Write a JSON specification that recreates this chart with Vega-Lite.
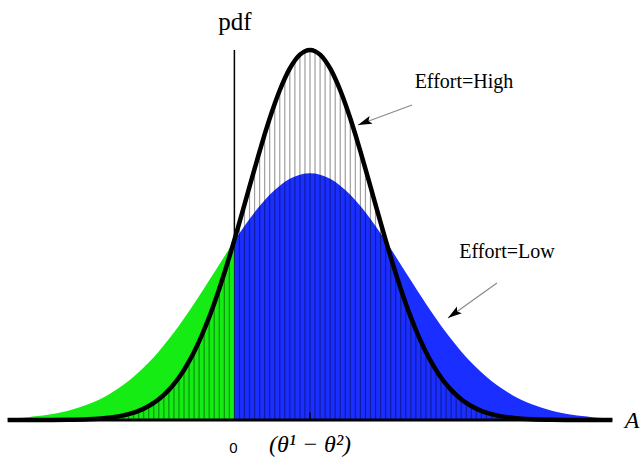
{
  "$schema": "https://vega.github.io/schema/vega-lite/v6.json",
  "width": 641,
  "height": 466,
  "autosize": "none",
  "padding": 0,
  "background": "white",
  "config": {"view": {"stroke": null}},
  "datasets": {
    "high": [
      {"x": -4.8, "h": 0.0}, {"x": -4.48, "h": 0.0}, {"x": -4.16, "h": 0.0002}, {"x": -3.84, "h": 0.0006},
      {"x": -3.52, "h": 0.0020}, {"x": -3.44, "h": 0.0027}, {"x": -3.36, "h": 0.0035}, {"x": -3.28, "h": 0.0046},
      {"x": -3.2, "h": 0.0060}, {"x": -3.12, "h": 0.0077}, {"x": -3.04, "h": 0.0098}, {"x": -2.96, "h": 0.0125},
      {"x": -2.88, "h": 0.0158}, {"x": -2.8, "h": 0.0198}, {"x": -2.72, "h": 0.0247}, {"x": -2.64, "h": 0.0307},
      {"x": -2.56, "h": 0.0377}, {"x": -2.48, "h": 0.0462}, {"x": -2.4, "h": 0.0561}, {"x": -2.32, "h": 0.0678},
      {"x": -2.24, "h": 0.0814}, {"x": -2.16, "h": 0.0970}, {"x": -2.08, "h": 0.1150}, {"x": -2.0, "h": 0.1353},
      {"x": -1.92, "h": 0.1583}, {"x": -1.84, "h": 0.1840}, {"x": -1.76, "h": 0.2125}, {"x": -1.68, "h": 0.2439},
      {"x": -1.6, "h": 0.2780}, {"x": -1.52, "h": 0.3150}, {"x": -1.44, "h": 0.3546}, {"x": -1.36, "h": 0.3966},
      {"x": -1.28, "h": 0.4408}, {"x": -1.2, "h": 0.4868}, {"x": -1.12, "h": 0.5341}, {"x": -1.04, "h": 0.5823},
      {"x": -0.96, "h": 0.6308}, {"x": -0.88, "h": 0.6790}, {"x": -0.8, "h": 0.7261}, {"x": -0.72, "h": 0.7717},
      {"x": -0.64, "h": 0.8148}, {"x": -0.56, "h": 0.8549}, {"x": -0.48, "h": 0.8912}, {"x": -0.4, "h": 0.9231},
      {"x": -0.32, "h": 0.9501}, {"x": -0.24, "h": 0.9716}, {"x": -0.16, "h": 0.9873}, {"x": -0.08, "h": 0.9968},
      {"x": 0.0, "h": 1.0},
      {"x": 0.08, "h": 0.9968}, {"x": 0.16, "h": 0.9873}, {"x": 0.24, "h": 0.9716}, {"x": 0.32, "h": 0.9501},
      {"x": 0.4, "h": 0.9231}, {"x": 0.48, "h": 0.8912}, {"x": 0.56, "h": 0.8549}, {"x": 0.64, "h": 0.8148},
      {"x": 0.72, "h": 0.7717}, {"x": 0.8, "h": 0.7261}, {"x": 0.88, "h": 0.6790}, {"x": 0.96, "h": 0.6308},
      {"x": 1.04, "h": 0.5823}, {"x": 1.12, "h": 0.5341}, {"x": 1.2, "h": 0.4868}, {"x": 1.28, "h": 0.4408},
      {"x": 1.36, "h": 0.3966}, {"x": 1.44, "h": 0.3546}, {"x": 1.52, "h": 0.3150}, {"x": 1.6, "h": 0.2780},
      {"x": 1.68, "h": 0.2439}, {"x": 1.76, "h": 0.2125}, {"x": 1.84, "h": 0.1840}, {"x": 1.92, "h": 0.1583},
      {"x": 2.0, "h": 0.1353}, {"x": 2.08, "h": 0.1150}, {"x": 2.16, "h": 0.0970}, {"x": 2.24, "h": 0.0814},
      {"x": 2.32, "h": 0.0678}, {"x": 2.4, "h": 0.0561}, {"x": 2.48, "h": 0.0462}, {"x": 2.56, "h": 0.0377},
      {"x": 2.64, "h": 0.0307}, {"x": 2.72, "h": 0.0247}, {"x": 2.8, "h": 0.0198}, {"x": 2.88, "h": 0.0158},
      {"x": 2.96, "h": 0.0125}, {"x": 3.04, "h": 0.0098}, {"x": 3.12, "h": 0.0077}, {"x": 3.2, "h": 0.0060},
      {"x": 3.28, "h": 0.0046}, {"x": 3.36, "h": 0.0035}, {"x": 3.44, "h": 0.0027}, {"x": 3.52, "h": 0.0020},
      {"x": 3.84, "h": 0.0006}, {"x": 4.16, "h": 0.0002}, {"x": 4.48, "h": 0.0}, {"x": 4.8, "h": 0.0}
    ],
    "low": [
      {"x": -4.8, "l": 0.0040}, {"x": -4.64, "l": 0.0056}, {"x": -4.48, "l": 0.0077}, {"x": -4.32, "l": 0.0105},
      {"x": -4.16, "l": 0.0143}, {"x": -4.0, "l": 0.0190}, {"x": -3.84, "l": 0.0252}, {"x": -3.68, "l": 0.0329},
      {"x": -3.52, "l": 0.0425}, {"x": -3.36, "l": 0.0542}, {"x": -3.2, "l": 0.0685}, {"x": -3.04, "l": 0.0855},
      {"x": -2.88, "l": 0.1055}, {"x": -2.72, "l": 0.1288}, {"x": -2.56, "l": 0.1554}, {"x": -2.4, "l": 0.1854},
      {"x": -2.24, "l": 0.2186}, {"x": -2.08, "l": 0.2549}, {"x": -1.92, "l": 0.2939}, {"x": -1.76, "l": 0.3349},
      {"x": -1.6, "l": 0.3774}, {"x": -1.44, "l": 0.4205}, {"x": -1.28, "l": 0.4632}, {"x": -1.2, "l": 0.4841},
      {"x": -1.12, "l": 0.5045}, {"x": -0.96, "l": 0.5432}, {"x": -0.8, "l": 0.5783}, {"x": -0.64, "l": 0.6087},
      {"x": -0.48, "l": 0.6334}, {"x": -0.32, "l": 0.6517}, {"x": -0.16, "l": 0.6629}, {"x": 0.0, "l": 0.6667},
      {"x": 0.16, "l": 0.6629}, {"x": 0.32, "l": 0.6517}, {"x": 0.48, "l": 0.6334}, {"x": 0.64, "l": 0.6087},
      {"x": 0.8, "l": 0.5783}, {"x": 0.96, "l": 0.5432}, {"x": 1.12, "l": 0.5045}, {"x": 1.28, "l": 0.4632},
      {"x": 1.44, "l": 0.4205}, {"x": 1.6, "l": 0.3774}, {"x": 1.76, "l": 0.3349}, {"x": 1.92, "l": 0.2939},
      {"x": 2.08, "l": 0.2549}, {"x": 2.24, "l": 0.2186}, {"x": 2.4, "l": 0.1854}, {"x": 2.56, "l": 0.1554},
      {"x": 2.72, "l": 0.1288}, {"x": 2.88, "l": 0.1055}, {"x": 3.04, "l": 0.0855}, {"x": 3.2, "l": 0.0685},
      {"x": 3.36, "l": 0.0542}, {"x": 3.52, "l": 0.0425}, {"x": 3.68, "l": 0.0329}, {"x": 3.84, "l": 0.0252},
      {"x": 4.0, "l": 0.0190}, {"x": 4.16, "l": 0.0143}, {"x": 4.32, "l": 0.0105}, {"x": 4.48, "l": 0.0077},
      {"x": 4.64, "l": 0.0056}, {"x": 4.8, "l": 0.0040}
    ]
  },
  "layer": [
    {
      "data": {"values": [{"x": -1.2, "y": 0, "y2": 1.0}]},
      "mark": {"type": "rule", "color": "black", "strokeWidth": 1.5},
      "encoding": {
        "x": {"field": "x", "type": "quantitative", "scale": {"domain": [-4.9206, 5.254], "nice": false, "zero": false}, "axis": null},
        "y": {"field": "y", "type": "quantitative", "scale": {"domain": [-0.12432, 1.13514], "nice": false, "zero": false}, "axis": null},
        "y2": {"field": "y2"}
      }
    },
    {
      "data": {"name": "low"},
      "transform": [{"filter": "datum.x <= -1.2"}],
      "mark": {"type": "area", "color": "#14ec14", "interpolate": "monotone"},
      "encoding": {
        "x": {"field": "x", "type": "quantitative"},
        "y": {"field": "l", "type": "quantitative"},
        "y2": {"datum": 0}
      }
    },
    {
      "data": {"name": "low"},
      "transform": [{"filter": "datum.x >= -1.2"}],
      "mark": {"type": "area", "color": "#1a2eff", "interpolate": "monotone"},
      "encoding": {
        "x": {"field": "x", "type": "quantitative"},
        "y": {"field": "l", "type": "quantitative"},
        "y2": {"datum": 0}
      }
    },
    {
      "data": {"name": "high"},
      "mark": {"type": "rule", "color": "black", "strokeWidth": 1.2, "opacity": 0.38},
      "encoding": {
        "x": {"field": "x", "type": "quantitative"},
        "y": {"field": "h", "type": "quantitative"},
        "y2": {"datum": 0}
      }
    },
    {
      "data": {"name": "high"},
      "mark": {"type": "line", "color": "black", "strokeWidth": 4.5, "interpolate": "monotone"},
      "encoding": {
        "x": {"field": "x", "type": "quantitative"},
        "y": {"field": "h", "type": "quantitative"}
      }
    },
    {
      "data": {"values": [{"x": -4.746, "x2": 4.794, "y": 0}]},
      "mark": {"type": "rule", "color": "black", "strokeWidth": 3},
      "encoding": {
        "x": {"field": "x", "type": "quantitative"},
        "x2": {"field": "x2"},
        "y": {"field": "y", "type": "quantitative"}
      }
    },
    {
      "data": {"values": [{"x": 0, "y": 0, "y2": 0.02}]},
      "mark": {"type": "rule", "color": "black", "strokeWidth": 1.5},
      "encoding": {
        "x": {"field": "x", "type": "quantitative"},
        "y": {"field": "y", "type": "quantitative"},
        "y2": {"field": "y2"}
      }
    },
    {
      "data": {"values": [{"x": 1.619, "y": 0.8514, "x2": 0.762, "y2": 0.7973}, {"x": 2.968, "y": 0.3703, "x2": 2.19, "y2": 0.2757}]},
      "mark": {"type": "rule", "color": "#8a8a8a", "strokeWidth": 1.2},
      "encoding": {
        "x": {"field": "x", "type": "quantitative"},
        "y": {"field": "y", "type": "quantitative"},
        "x2": {"field": "x2"},
        "y2": {"field": "y2"}
      }
    },
    {
      "data": {"values": [{"x": 0.762, "y": 0.7973}]},
      "mark": {"type": "point", "shape": "M0,0L0.6,2L0,1.6L-0.6,2Z", "size": 196, "filled": true, "color": "black", "opacity": 1, "angle": 248.75},
      "encoding": {
        "x": {"field": "x", "type": "quantitative"},
        "y": {"field": "y", "type": "quantitative"}
      }
    },
    {
      "data": {"values": [{"x": 2.19, "y": 0.2757}]},
      "mark": {"type": "point", "shape": "M0,0L0.6,2L0,1.6L-0.6,2Z", "size": 196, "filled": true, "color": "black", "opacity": 1, "angle": 234.5},
      "encoding": {
        "x": {"field": "x", "type": "quantitative"},
        "y": {"field": "y", "type": "quantitative"}
      }
    },
    {
      "data": {"values": [{"x": -1.19, "y": 1.054, "label": "pdf"}]},
      "mark": {"type": "text", "font": "Liberation Serif", "fontSize": 25, "align": "center", "baseline": "alphabetic", "color": "black"},
      "encoding": {
        "x": {"field": "x", "type": "quantitative"},
        "y": {"field": "y", "type": "quantitative"},
        "text": {"field": "label"}
      }
    },
    {
      "data": {"values": [{"x": 2.444, "y": 0.897, "label": "Effort=High"}, {"x": 3.127, "y": 0.438, "label": "Effort=Low"}]},
      "mark": {"type": "text", "font": "Liberation Serif", "fontSize": 20, "align": "center", "baseline": "alphabetic", "color": "black"},
      "encoding": {
        "x": {"field": "x", "type": "quantitative"},
        "y": {"field": "y", "type": "quantitative"},
        "text": {"field": "label"}
      }
    },
    {
      "data": {"values": [{"x": -1.214, "y": -0.0892, "label": "0"}]},
      "mark": {"type": "text", "font": "Liberation Sans", "fontSize": 15, "align": "center", "baseline": "alphabetic", "color": "black"},
      "encoding": {
        "x": {"field": "x", "type": "quantitative"},
        "y": {"field": "y", "type": "quantitative"},
        "text": {"field": "label"}
      }
    },
    {
      "data": {"values": [{"x": 0.0, "y": -0.0865, "label": "(θ¹ − θ²)"}]},
      "mark": {"type": "text", "font": "Liberation Serif", "fontSize": 24, "fontStyle": "italic", "align": "center", "baseline": "alphabetic", "color": "black"},
      "encoding": {
        "x": {"field": "x", "type": "quantitative"},
        "y": {"field": "y", "type": "quantitative"},
        "text": {"field": "label"}
      }
    },
    {
      "data": {"values": [{"x": 5.111, "y": -0.0216, "label": "A"}]},
      "mark": {"type": "text", "font": "Liberation Serif", "fontSize": 24, "fontStyle": "italic", "align": "center", "baseline": "alphabetic", "color": "black"},
      "encoding": {
        "x": {"field": "x", "type": "quantitative"},
        "y": {"field": "y", "type": "quantitative"},
        "text": {"field": "label"}
      }
    }
  ]
}
